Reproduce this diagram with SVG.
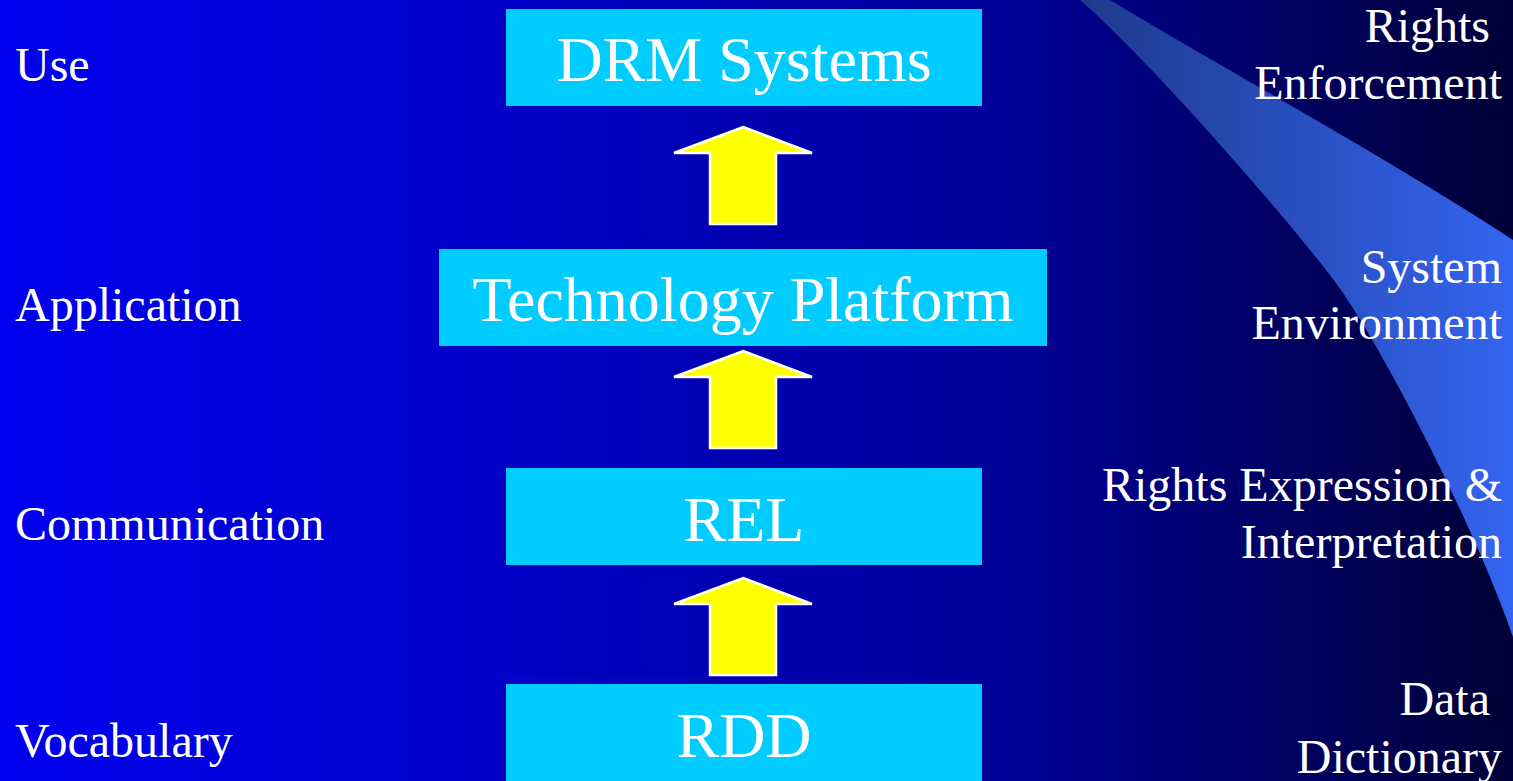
<svg xmlns="http://www.w3.org/2000/svg" width="1513" height="781" viewBox="0 0 1513 781">
  <defs>
    <linearGradient id="bg" x1="0" y1="0" x2="1" y2="0">
      <stop offset="0" stop-color="#0000f0"/>
      <stop offset="0.33" stop-color="#0000c8"/>
      <stop offset="0.66" stop-color="#00009a"/>
      <stop offset="1" stop-color="#000036"/>
    </linearGradient>
    <linearGradient id="swoosh" gradientUnits="userSpaceOnUse" x1="1080" y1="0" x2="1513" y2="0">
      <stop offset="0" stop-color="#1e3a8c"/>
      <stop offset="1" stop-color="#3464f0"/>
    </linearGradient>
    <style>
      .box { fill: #00ccff; }
      .boxtext { font-size: 64px; fill: #ffffff; text-anchor: middle; }
      .label { font-size: 48px; fill: #ffffff; }
      .right { text-anchor: end; }
      .arrow { fill: #ffff00; stroke: #ffffff; stroke-width: 2.5; stroke-linejoin: miter; }
    </style>
  </defs>

  <rect x="0" y="0" width="1513" height="781" fill="url(#bg)"/>
  <path d="M1080,0 L1110,0 C1200,55 1400,165 1513,240 L1513,637 C1480,540 1395,370 1343,293 C1307,240 1150,60 1080,0 Z" fill="url(#swoosh)"/>

  <g id="connectors">
    <polygon class="arrow" points="743,127 812,153 776,153 776,224 710,224 710,153 674,153"/>
    <polygon class="arrow" points="743,351 812,377 776,377 776,448 710,448 710,377 674,377"/>
    <polygon class="arrow" points="743,578 812,604 776,604 776,675 710,675 710,604 674,604"/>
  </g>

  <g font-family="'Liberation Serif', 'DejaVu Serif', serif">
    <g id="node-drm">
      <rect class="box" x="506" y="9" width="476" height="97"/>
      <text class="boxtext" x="744" y="81">DRM Systems</text>
    </g>
    <g id="node-tech">
      <rect class="box" x="439" y="249" width="608" height="97"/>
      <text class="boxtext" x="743" y="321">Technology Platform</text>
    </g>
    <g id="node-rel">
      <rect class="box" x="506" y="468" width="476" height="97"/>
      <text class="boxtext" x="744" y="541">REL</text>
    </g>
    <g id="node-rdd">
      <rect class="box" x="506" y="684" width="476" height="97"/>
      <text class="boxtext" x="744" y="757">RDD</text>
    </g>

    <g id="left-labels">
      <text class="label" x="15" y="81">Use</text>
      <text class="label" x="15" y="321">Application</text>
      <text class="label" x="15" y="540">Communication</text>
      <text class="label" x="15" y="757">Vocabulary</text>
    </g>

    <g id="right-labels">
      <text class="label right" x="1490" y="42">Rights</text>
      <text class="label right" x="1502" y="99">Enforcement</text>
      <text class="label right" x="1502" y="283">System</text>
      <text class="label right" x="1502" y="339">Environment</text>
      <text class="label right" x="1502" y="501">Rights Expression &amp;</text>
      <text class="label right" x="1502" y="558">Interpretation</text>
      <text class="label right" x="1490" y="715">Data</text>
      <text class="label right" x="1502" y="773">Dictionary</text>
    </g>
  </g>
</svg>
